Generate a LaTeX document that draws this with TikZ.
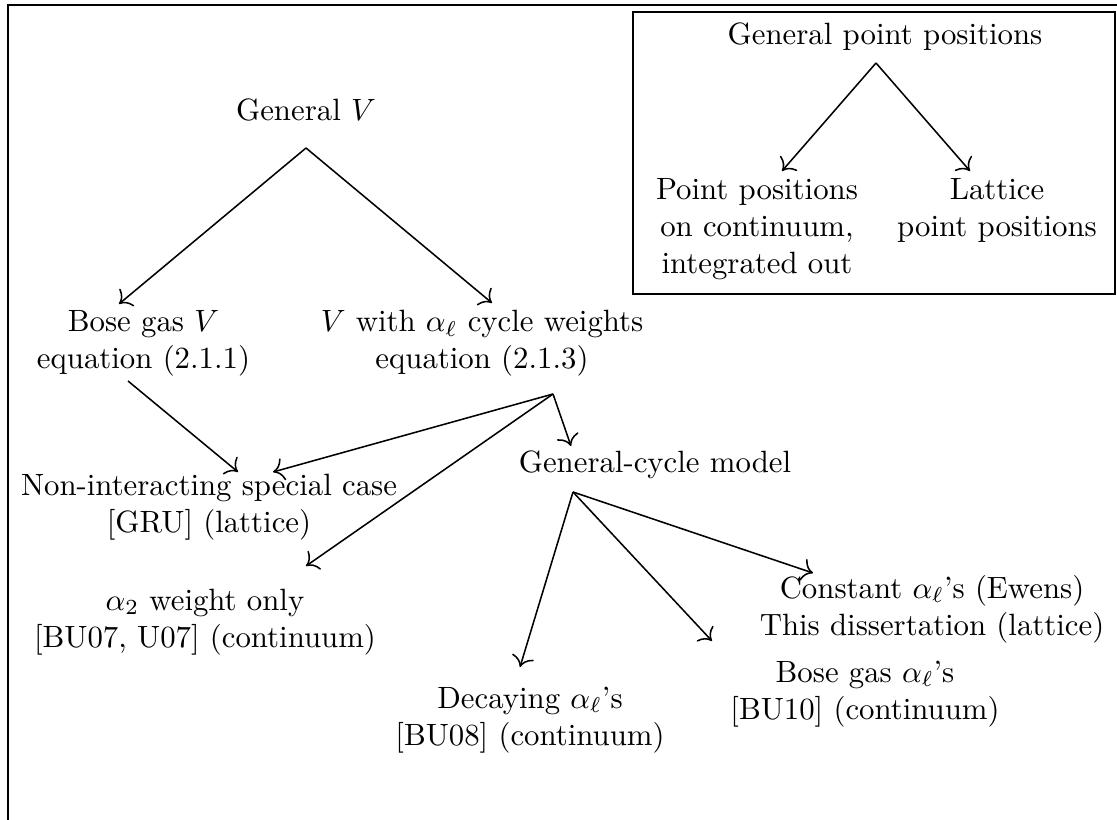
\documentclass[tikz,border=0pt]{standalone}
\usetikzlibrary{arrows.meta}
\begin{document}
\begin{tikzpicture}[x=0.3247pt,y=-0.3247pt,
  lbl/.style={align=center,inner sep=0pt},
  arr/.style={-{To[scale=1.3]},line width=0.5pt},
  frame/.style={line width=0.6pt}]
\useasboundingbox (0,0) rectangle (1117,819);
% outer frame (cropped)
\draw[frame] (1140,5) -- (8,5) -- (8,840);
% inset box
\draw[frame] (633,12) rectangle (1115,294);
% inset nodes
\node[lbl,anchor=base] (genpp) at (885,45) {General point positions};
\node[lbl] (ppc) at (757,229) {Point positions\\on continuum,\\integrated out};
\node[lbl] (lat) at (997,210) {Lattice\\point positions};
\coordinate (genpp-s) at (876,63);
\coordinate (ppc-n) at (782,171);
\coordinate (lat-n) at (970,171);
\draw[arr] (genpp-s) -- (ppc-n);
\draw[arr] (genpp-s) -- (lat-n);
% main tree
\node[lbl,anchor=base] (genV) at (306,121) {General $V$};
\node[lbl] (bose) at (143.5,343.6) {Bose gas $V$\\equation (2.1.1)};
\node[lbl] (valpha) at (482,343.6) {$V$ with $\alpha_\ell$ cycle weights\\equation (2.1.3)};
\node[lbl] (nonint) at (209,507.6) {Non-interacting special case\\{}[GRU] (lattice)};
\node[lbl,anchor=base] (gcm) at (655,472) {General-cycle model};
\node[lbl] (alpha2) at (205,621.7) {$\alpha_2$ weight only\\{}[BU07, U07] (continuum)};
\node[lbl] (decay) at (530,719.7) {Decaying $\alpha_\ell$'s\\{}[BU08] (continuum)};
\node[lbl] (bosea) at (865,694) {Bose gas $\alpha_\ell$'s\\{}[BU10] (continuum)};
\node[lbl] (const) at (932,609) {Constant $\alpha_\ell$'s (Ewens)\\This dissertation (lattice)};
\coordinate (genV-s) at (306,148);
\coordinate (bose-n) at (119,304);
\coordinate (valpha-n) at (492,303);
\coordinate (bose-s) at (128,381);
\coordinate (valpha-s) at (553,394);
\coordinate (nonint-n1) at (238,472);
\coordinate (nonint-n2) at (273,472);
\coordinate (alpha2-n) at (306,566);
\coordinate (gcm-n) at (571,446);
\coordinate (gcm-s) at (573,492);
\coordinate (decay-n) at (520,667);
\coordinate (bosea-n) at (712,641);
\coordinate (const-n) at (813,573);
\draw[arr] (genV-s) -- (bose-n);
\draw[arr] (genV-s) -- (valpha-n);
\draw[arr] (bose-s) -- (nonint-n1);
\draw[arr] (valpha-s) -- (nonint-n2);
\draw[arr] (valpha-s) -- (alpha2-n);
\draw[arr] (valpha-s) -- (gcm-n);
\draw[arr] (gcm-s) -- (decay-n);
\draw[arr] (gcm-s) -- (bosea-n);
\draw[arr] (gcm-s) -- (const-n);
\end{tikzpicture}
\end{document}
